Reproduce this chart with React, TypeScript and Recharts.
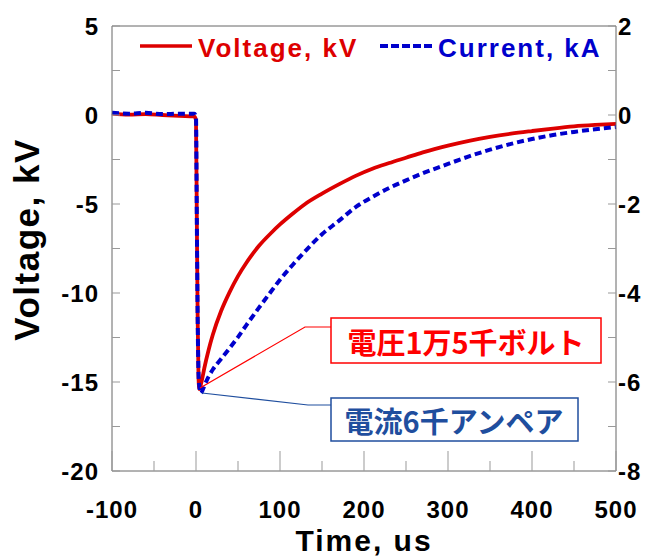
import {
  LineChart,
  Line,
  XAxis,
  YAxis,
  ReferenceLine
} from 'recharts';

// time in microseconds, voltage in kV, current in kA
const TIME = [-100, -80, -60, -40, -20, -2, 0, 1, 2, 3, 4, 5, 6, 7, 10, 15, 20, 30, 40, 50, 60, 75, 90, 100, 115, 130, 150, 170, 190, 210, 230, 250, 270, 300, 325, 350, 375, 400, 425, 450, 475, 500];
const VOLTAGE = [0.08, 0.02, 0.05, 0.0, -0.05, -0.08, -0.3, -6.0, -11.5, -14.8, -15.4, -15.3, -15.1, -14.9, -14.2, -13.2, -12.35, -11.0, -9.95, -9.05, -8.3, -7.35, -6.6, -6.15, -5.55, -5.0, -4.42, -3.9, -3.42, -3.02, -2.7, -2.4, -2.1, -1.72, -1.45, -1.23, -1.05, -0.9, -0.76, -0.64, -0.56, -0.5];
const CURRENT = [0.05, 0.03, 0.05, 0.02, 0.03, 0.03, -0.05, -2.4, -4.6, -5.8, -6.1, -6.2, -6.25, -6.22, -6.08, -5.88, -5.72, -5.48, -5.24, -4.99, -4.72, -4.33, -3.95, -3.7, -3.37, -3.06, -2.68, -2.38, -2.07, -1.84, -1.64, -1.47, -1.31, -1.1, -0.93, -0.78, -0.65, -0.54, -0.45, -0.38, -0.32, -0.27];

const X_TICKS = [-100, -50, 0, 50, 100, 150, 200, 250, 300, 350, 400, 450, 500];
const V_TICKS = [-20, -17.5, -15, -12.5, -10, -7.5, -5, -2.5, 0, 2.5, 5];
const I_TICKS = [-8, -7, -6, -5, -4, -3, -2, -1, 0, 1, 2];

const data = TIME.map((t, i) => ({ t, v: VOLTAGE[i], c: CURRENT[i] }));

const FONT = "'Liberation Sans', Arial, sans-serif";
const JP_FONT = "'Noto Sans CJK JP', sans-serif";
const RED = '#dd0000';
const BLUE = '#0000cc';
const AXIS = '#666666';
const TICK = '#999999';

const labelStyle = { fontFamily: FONT, fontWeight: 'bold', fontSize: 24, letterSpacing: 1 } as const;
const legendStyle = { fontFamily: FONT, fontWeight: 'bold', fontSize: 26, letterSpacing: 2 } as const;

function LeftTick({ x, y, payload }: any) {
  const major = payload.value % 5 === 0;
  return (
    <g>
      <line x1={x} x2={x + 8} y1={y} y2={y} stroke={TICK} />
      {major && (
        <text x={x - 13} y={y} textAnchor="end" dominantBaseline="central" fill="#000" style={labelStyle}>
          {payload.value}
        </text>
      )}
    </g>
  );
}

function RightTick({ x, y, payload }: any) {
  const major = payload.value % 2 === 0;
  return (
    <g>
      <line x1={x - 8} x2={x} y1={y} y2={y} stroke={TICK} />
      {major && (
        <text x={x + 2} y={y} textAnchor="start" dominantBaseline="central" fill="#000" style={labelStyle}>
          {payload.value}
        </text>
      )}
    </g>
  );
}

function BottomTick({ x, y, payload }: any) {
  const major = payload.value % 100 === 0;
  return (
    <g>
      <line x1={x} x2={x} y1={y} y2={y - (major ? 20 : 10)} stroke={TICK} />
      {major && (
        <text x={x} y={y + 47} textAnchor="middle" fill="#000" style={labelStyle}>
          {payload.value}
        </text>
      )}
    </g>
  );
}

export default function App() {
  return (
    <div style={{ position: 'absolute', left: 0, top: 0, width: 656, height: 559, background: '#fff' }}>
      <LineChart width={656} height={559} data={data} margin={{ top: 26, right: 0, bottom: 0, left: 0 }}>
        <XAxis
          dataKey="t"
          type="number"
          domain={[-100, 500]}
          ticks={X_TICKS}
          interval={0}
          tickSize={0}
          tickMargin={0}
          tickLine={false}
          tick={<BottomTick />}
          axisLine={{ stroke: AXIS }}
          height={88}
          label={{
            content: ({ viewBox }: any) => (
              <text
                x={viewBox.x + viewBox.width / 2}
                y={viewBox.y + 80}
                textAnchor="middle"
                fill="#000"
                style={{ fontFamily: FONT, fontWeight: 'bold', fontSize: 30, letterSpacing: 2 }}
              >
                Time, us
              </text>
            )
          }}
        />
        <YAxis
          yAxisId="v"
          domain={[-20, 5]}
          ticks={V_TICKS}
          interval={0}
          tickSize={0}
          tickMargin={0}
          tickLine={false}
          tick={<LeftTick />}
          axisLine={{ stroke: AXIS }}
          width={112}
          label={{
            content: ({ viewBox }: any) => {
              const cx = 39;
              const cy = viewBox.y + viewBox.height / 2 - 9;
              return (
                <text
                  x={cx}
                  y={cy}
                  textAnchor="middle"
                  transform={`rotate(-90 ${cx} ${cy})`}
                  fill="#000"
                  style={{ fontFamily: FONT, fontWeight: 'bold', fontSize: 35, letterSpacing: 1.5 }}
                >
                  Voltage, kV
                </text>
              );
            }
          }}
        />
        <YAxis
          yAxisId="i"
          orientation="right"
          domain={[-8, 2]}
          ticks={I_TICKS}
          interval={0}
          tickSize={0}
          tickMargin={0}
          tickLine={false}
          tick={<RightTick />}
          axisLine={{ stroke: AXIS }}
          width={40}
        />
        <ReferenceLine yAxisId="v" y={5} stroke={AXIS} />
        <Line
          yAxisId="v"
          dataKey="v"
          type="monotone"
          stroke={RED}
          strokeWidth={3.8}
          dot={false}
          isAnimationActive={false}
        />
        <Line
          yAxisId="i"
          dataKey="c"
          type="monotone"
          stroke={BLUE}
          strokeWidth={4}
          strokeDasharray="7 4"
          dot={false}
          isAnimationActive={false}
        />
      </LineChart>

      {/* legend and callouts */}
      <svg width={656} height={559} style={{ position: 'absolute', left: 0, top: 0, pointerEvents: 'none' }}>
        <line x1={140} x2={192} y1={46} y2={46} stroke={RED} strokeWidth={3.5} />
        <text x={198} y={56.5} fill={RED} style={legendStyle}>Voltage, kV</text>
        <line x1={380} x2={433} y1={46} y2={46} stroke={BLUE} strokeWidth={4} strokeDasharray="8 3" />
        <text x={438} y={56.5} fill={BLUE} style={legendStyle}>Current, kA</text>

        <polyline points="200,388 305,327 331,327" fill="none" stroke="#ff0000" strokeWidth={1.2} />
        <rect x={331} y={318} width={270} height={45} fill="#fff" stroke="#ff0000" strokeWidth={1.5} />
        <text x={466} y={341} textAnchor="middle" dominantBaseline="central" fill="#ff0000"
          style={{ fontFamily: JP_FONT, fontWeight: 'bold', fontSize: 29 }}>
          電圧1万5千ボルト
        </text>
        <polyline points="202,393 308,405 331,405" fill="none" stroke="#1f4e9e" strokeWidth={1.2} />
        <rect x={331} y={398} width={247} height={43} fill="#fff" stroke="#1f4e9e" strokeWidth={1.5} />
        <text x={454} y={420} textAnchor="middle" dominantBaseline="central" fill="#1f4e9e"
          style={{ fontFamily: JP_FONT, fontWeight: 'bold', fontSize: 29 }}>
          電流6千アンペア
        </text>
      </svg>
    </div>
  );
}
